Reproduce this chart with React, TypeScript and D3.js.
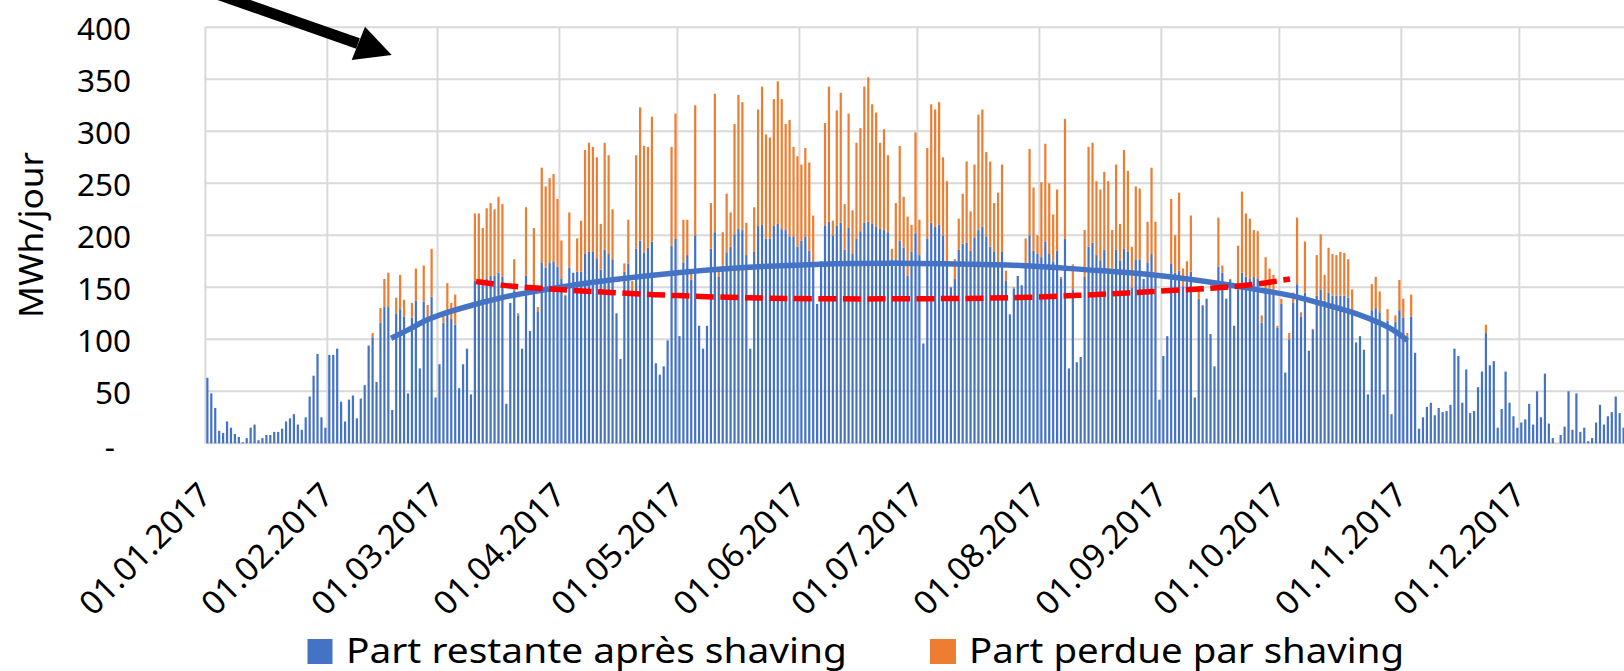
import React from "react";
import * as d3 from "d3";

// Daily values (MWh/jour), day 0 = 01.01.2017 (visible part of the year)
const restante: number[] = [
  63, 48, 34, 12, 10, 21, 15, 9, 6, 1,
  5, 15, 18, 3, 5, 8, 8, 11, 11, 14,
  21, 24, 28, 18, 13, 25, 45, 65, 86, 25,
  15, 85, 85, 91, 40, 21, 42, 46, 24, 43,
  56, 94, 102, 59, 116, 131, 131, 32, 125, 129,
  122, 48, 121, 137, 72, 136, 118, 141, 44, 76,
  116, 128, 120, 114, 53, 76, 91, 47, 156, 155,
  155, 158, 161, 161, 164, 160, 38, 135, 147, 123,
  91, 161, 108, 152, 127, 174, 169, 174, 175, 170,
  158, 142, 169, 164, 165, 165, 182, 184, 184, 178,
  167, 186, 182, 177, 125, 81, 165, 173, 145, 187,
  195, 183, 188, 194, 77, 66, 74, 99, 190, 197,
  103, 174, 181, 157, 200, 113, 91, 113, 187, 203,
  160, 171, 183, 189, 201, 206, 205, 181, 91, 184,
  209, 210, 197, 197, 209, 211, 206, 205, 199, 199,
  189, 195, 199, 185, 175, 134, 175, 209, 213, 200,
  209, 212, 186, 207, 182, 197, 204, 212, 213, 211,
  208, 206, 205, 203, 177, 177, 195, 188, 161, 184,
  202, 181, 96, 197, 212, 208, 210, 200, 175, 150,
  158, 186, 192, 193, 185, 198, 205, 208, 199, 189,
  184, 174, 184, 156, 124, 149, 161, 152, 173, 200,
  185, 182, 179, 194, 182, 175, 185, 158, 197, 72,
  148, 78, 83, 160, 189, 193, 181, 176, 186, 168,
  168, 186, 176, 187, 184, 150, 177, 177, 158, 174,
  182, 164, 42, 84, 103, 173, 164, 166, 151, 155,
  165, 44, 139, 132, 139, 105, 74, 170, 164, 139,
  157, 113, 148, 164, 160, 158, 160, 158, 116, 145,
  145, 145, 111, 134, 68, 100, 135, 153, 122, 145,
  89, 109, 142, 148, 137, 145, 142, 142, 142, 142,
  140, 128, 97, 103, 90, 47, 128, 130, 126, 47,
  118, 28, 117, 128, 121, 101, 122, 87, 14, 25,
  35, 39, 27, 34, 30, 31, 37, 91, 84, 39,
  71, 29, 31, 54, 69, 106, 75, 79, 15, 33,
  69, 39, 26, 15, 20, 23, 38, 18, 50, 25,
  67, 19, 5, 0, 8, 16, 50, 13, 48, 11,
  15, 2, 5, 20, 37, 18, 26, 30, 45, 29, 15,
];

const perdue: number[] = [
  0, 0, 0, 0, 0, 0, 0, 0, 0, 0,
  0, 0, 0, 0, 0, 0, 0, 0, 0, 0,
  0, 0, 0, 0, 0, 0, 0, 0, 0, 0,
  0, 0, 0, 0, 0, 0, 0, 0, 0, 0,
  0, 0, 4, 0, 14, 27, 33, 0, 15, 33,
  16, 0, 14, 31, 0, 35, 15, 46, 0, 0,
  9, 26, 15, 29, 0, 0, 0, 0, 65, 66,
  52, 68, 70, 64, 73, 70, 0, 0, 30, 2,
  0, 66, 0, 55, 4, 91, 78, 81, 84, 65,
  37, 1, 53, 0, 32, 49, 100, 105, 101, 97,
  44, 103, 95, 48, 0, 0, 8, 42, 11, 90,
  128, 103, 97, 120, 0, 0, 0, 0, 95, 120,
  0, 41, 34, 6, 125, 0, 0, 0, 44, 133,
  6, 32, 57, 33, 106, 129, 123, 31, 0, 43,
  112, 133, 100, 97, 122, 137, 125, 102, 112, 86,
  87, 73, 85, 85, 44, 0, 0, 99, 130, 14,
  111, 125, 44, 110, 42, 92, 99, 131, 139, 115,
  110, 83, 97, 74, 10, 54, 91, 49, 57, 26,
  97, 34, 0, 87, 114, 113, 118, 75, 77, 0,
  19, 30, 48, 78, 38, 70, 111, 113, 81, 82,
  47, 67, 84, 10, 0, 1, 0, 0, 24, 83,
  61, 18, 72, 94, 68, 45, 59, 2, 115, 0,
  24, 0, 0, 45, 96, 96, 71, 68, 75, 84,
  37, 82, 35, 95, 78, 39, 70, 68, 0, 39,
  83, 49, 0, 0, 0, 62, 36, 75, 17, 20,
  54, 0, 12, 1, 0, 0, 0, 47, 7, 0,
  1, 0, 42, 78, 61, 58, 45, 46, 7, 34,
  23, 17, 2, 5, 0, 6, 10, 64, 4, 49,
  0, 1, 39, 53, 25, 43, 40, 39, 42, 41,
  37, 20, 0, 0, 0, 0, 25, 30, 20, 0,
  11, 0, 6, 29, 18, 5, 21, 0, 0, 0,
  0, 0, 0, 0, 0, 0, 0, 0, 0, 0,
  0, 0, 0, 0, 0, 8, 0, 0, 0, 0,
  0, 0, 0, 0, 0, 0, 0, 0, 0, 0,
  0, 0, 0, 0, 0, 0, 0, 0, 0, 0,
  0, 0, 0, 0, 0, 0, 0, 0, 0, 0, 0,
];

// Trend curves: [days since 01.01.2017, MWh/jour]
const courbeRestante: [number, number][] = [
  [47.2, 101], [52, 110], [56, 118], [60, 124], [68, 133], [76.5, 141],
  [85, 147], [93.5, 152], [103, 157], [120, 164], [137, 169], [155, 172],
  [180, 173], [207, 171], [223.5, 167], [240.5, 162], [259, 153], [267, 148],
  [276, 142], [284, 134], [293, 124], [301, 111], [305.5, 99],
];
const courbeSeuil: [number, number][] = [
  [68.8, 155.5], [76.5, 151.6], [85, 149], [93.5, 147], [103, 145], [120, 142],
  [137, 140], [155, 139], [180, 139], [205, 140], [224, 142.6], [241, 146],
  [259, 150], [267, 153], [275.7, 158],
];

const yTicks = [0, 50, 100, 150, 200, 250, 300, 350, 400];
const yTitle = "MWh/jour";
const legendLabels = ["Part restante après shaving", "Part perdue par shaving"];
const BLUE = "#4472C4";
const ORANGE = "#ED7D31";
const FONT = "'Noto Sans', 'Open Sans', sans-serif";

export default function App() {
  const W = 1624;
  const H = 671;
  const X0 = 205.4;
  const X1 = 1641.3;
  const Y0 = 443.3;
  const Y1 = 27.3;

  const start = new Date(Date.UTC(2017, 0, 1));
  const end = new Date(Date.UTC(2018, 0, 1));
  const x = d3.scaleUtc().domain([start, end]).range([X0, X1]);
  const y = d3.scaleLinear().domain([0, 400]).range([Y0, Y1]);
  const xd = (t: number) => x(new Date(start.getTime() + t * 86400000));
  const step = xd(1) - xd(0);
  const bw = step * 0.56;

  const months = d3.utcMonth.range(start, end);
  const fmt = d3.utcFormat("%d.%m.%Y");

  const line = d3
    .line<[number, number]>()
    .x((d) => xd(d[0]))
    .y((d) => y(d[1]))
    .curve(d3.curveCatmullRom.alpha(0.5));

  return (
    <svg
      width={W}
      height={H}
      style={{ position: "absolute", left: 0, top: 0, background: "#fff" }}
      fontFamily={FONT}
    >
      <rect x={0} y={0} width={W} height={H} fill="#fff" />
      {/* horizontal grid */}
      {yTicks.map((v) => (
        <line key={"h" + v} x1={X0} x2={X1} y1={y(v)} y2={y(v)} stroke="#D9D9D9" strokeWidth={2} />
      ))}
      {/* vertical grid */}
      {months.map((m) => (
        <line key={"v" + m.getTime()} x1={x(m)} x2={x(m)} y1={Y1} y2={Y0} stroke="#D9D9D9" strokeWidth={2} />
      ))}
      {/* bars */}
      {restante.map((v, i) => {
        const cx = xd(i + 0.5);
        const tot = v + perdue[i];
        return (
          <g key={"b" + i}>
            {v > 0 && (
              <rect x={cx - bw / 2} y={y(v)} width={bw} height={y(0) - y(v)} fill={BLUE} />
            )}
            {perdue[i] > 0 && (
              <rect x={cx - bw / 2} y={y(tot)} width={bw} height={y(v) - y(tot)} fill={ORANGE} />
            )}
          </g>
        );
      })}
      {/* trend curves */}
      <path d={line(courbeRestante) || ""} fill="none" stroke={BLUE} strokeWidth={5.5} />
      <path
        d={line(courbeSeuil) || ""}
        fill="none"
        stroke="#FF0000"
        strokeWidth={5.5}
        strokeDasharray="18 6.5"
      />
      {/* y tick labels */}
      {yTicks.map((v) => (
        <text
          key={"yt" + v}
          x={v === 0 ? 115 : 131}
          y={y(v) + (v === 0 ? 2 : 0)}
          textAnchor="end"
          dominantBaseline="central"
          fontSize={31.5}
          fill="#000"
        >
          {v === 0 ? "-" : String(v)}
        </text>
      ))}
      {/* y title */}
      <text
        transform={`translate(30,235) rotate(-90)`}
        textAnchor="middle"
        dominantBaseline="central"
        fontSize={33}
        textLength={166}
        lengthAdjust="spacingAndGlyphs"
      >
        {yTitle}
      </text>
      {/* x tick labels */}
      {months.map((m) => (
        <text
          key={"xt" + m.getTime()}
          transform={`translate(${x(m) + 8},497) rotate(-45)`}
          textAnchor="end"
          fontSize={33}
          textLength={170}
          lengthAdjust="spacingAndGlyphs"
        >
          {fmt(m)}
        </text>
      ))}
      {/* legend */}
      <rect x={307.5} y={639} width={25} height={25} fill={BLUE} />
      <text x={346} y={662.5} fontSize={35} textLength={501} lengthAdjust="spacingAndGlyphs">
        {legendLabels[0]}
      </text>
      <rect x={930} y={639} width={26} height={25} fill={ORANGE} />
      <text x={969} y={662.5} fontSize={35} textLength={435} lengthAdjust="spacingAndGlyphs">
        {legendLabels[1]}
      </text>
      {/* arrow */}
      <line x1={177} y1={-20} x2={358} y2={43.5} stroke="#000" strokeWidth={11} />
      <polygon points="365,26.7 391.7,55 351.7,60" fill="#000" />
    </svg>
  );
}
